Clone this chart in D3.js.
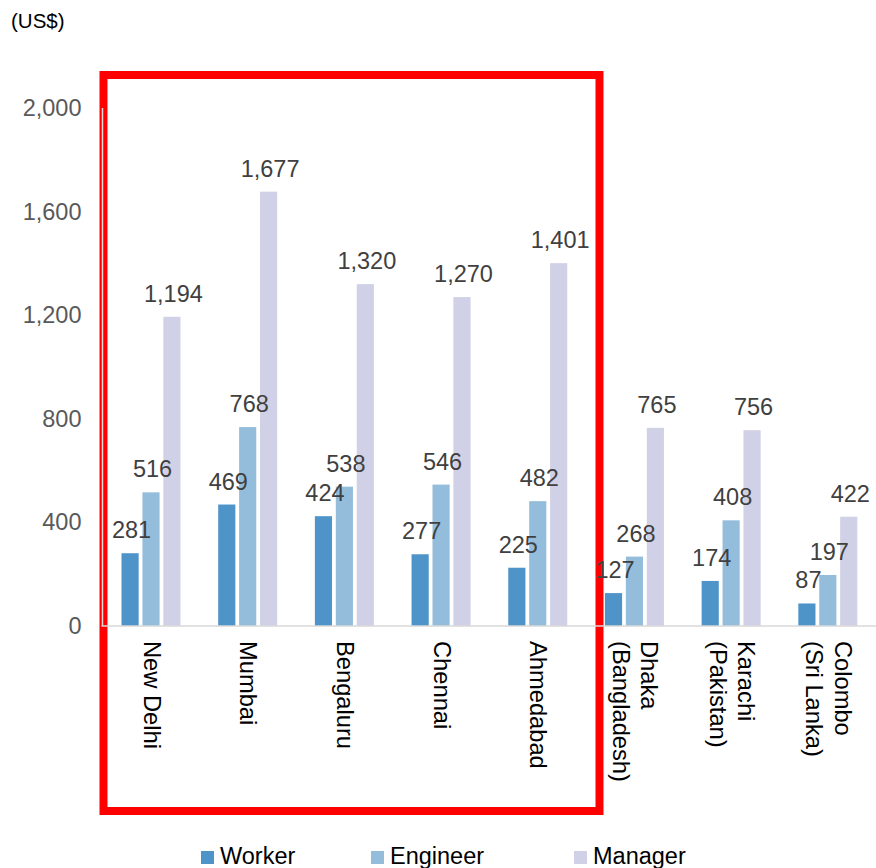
<!DOCTYPE html>
<html>
<head>
<meta charset="utf-8">
<script src="https://cdn.jsdelivr.net/npm/d3@7"></script>
<style>
  html, body { margin: 0; padding: 0; background: #ffffff; }
  svg { display: block; font-family: "Liberation Sans", Arial, sans-serif; }
</style>
</head>
<body>
<svg id="chart" width="876" height="868"></svg>
<script>
// Monthly wages by city (US$)
const cities = [
  ["New Delhi"], ["Mumbai"], ["Bengaluru"], ["Chennai"], ["Ahmedabad"],
  ["Dhaka", "(Bangladesh)"], ["Karachi", "(Pakistan)"], ["Colombo", "(Sri Lanka)"]
];
const seriesNames = ["Worker", "Engineer", "Manager"];
const worker   = [281, 469, 424, 277, 225, 127, 174, 87];
const engineer = [516, 768, 538, 546, 482, 268, 408, 197];
const manager  = [1194, 1677, 1320, 1270, 1401, 765, 756, 422];
const yTicks = [0, 400, 800, 1200, 1600, 2000];
const colors = ["#4f94c8", "#94bddb", "#d0d1e6"];

const values = [worker, engineer, manager];
const keys = cities.map(c => c.join(" "));

const svg = d3.select("#chart");

const x0 = d3.scaleBand().domain(keys).range([102.5, 876]).paddingInner(0);
const x1 = d3.scaleBand().domain(seriesNames).range([19, 78]).paddingInner(0.18);
const y = d3.scaleLinear().domain([0, 2000]).range([626, 108]);

// Highlight frame around the Indian cities
svg.append("rect")
  .attr("x", 103.5).attr("y", 75)
  .attr("width", 496).attr("height", 736)
  .attr("fill", "none")
  .attr("stroke", "#ff0000")
  .attr("stroke-width", 8);

// Unit label
svg.append("text")
  .attr("x", 11).attr("y", 28)
  .attr("font-size", 20.5)
  .attr("fill", "#000")
  .text("(US$)");

// Y axis
const yAxis = d3.axisLeft(y).tickValues(yTicks).tickSize(0).tickPadding(21)
  .tickFormat(d3.format(","));
const gy = svg.append("g").attr("transform", "translate(102.5,0)").call(yAxis);
gy.select(".domain").remove();
gy.selectAll("text")
  .attr("font-size", 23.5)
  .attr("fill", "#595959")
  .attr("font-family", "Liberation Sans, Arial, sans-serif");

// Bars
const groups = svg.append("g").selectAll("g")
  .data(keys)
  .join("g")
  .attr("transform", d => `translate(${x0(d)},0)`);

groups.selectAll("rect")
  .data((d, i) => seriesNames.map((s, k) => ({ s, v: values[k][i], k })))
  .join("rect")
  .attr("x", d => x1(d.s))
  .attr("y", d => y(d.v))
  .attr("width", x1.bandwidth())
  .attr("height", d => y(0) - y(d.v))
  .attr("fill", d => colors[d.k]);

// Value labels
groups.selectAll("text.val")
  .data((d, i) => seriesNames.map((s, k) => ({ s, v: values[k][i], k })))
  .join("text")
  .attr("class", "val")
  .attr("x", d => x1(d.s) + x1.bandwidth() / 2 + 1.5)
  .attr("y", d => y(d.v) - 15)
  .attr("text-anchor", "middle")
  .attr("font-size", 23.5)
  .attr("fill", "#404040")
  .text(d => d3.format(",")(d.v));

// Axis lines
svg.append("line")
  .attr("x1", 102.5).attr("x2", 102.5)
  .attr("y1", 108).attr("y2", 626)
  .attr("stroke", "#d9d9d9").attr("stroke-width", 1.5);
svg.append("line")
  .attr("x1", 101.5).attr("x2", 876)
  .attr("y1", 626).attr("y2", 626)
  .attr("stroke", "#d9d9d9").attr("stroke-width", 1.5);

// Category labels, rotated to read downward
cities.forEach((lines, i) => {
  const cx = x0(keys[i]) + x0.bandwidth() / 2;
  const t = svg.append("text")
    .attr("transform", `translate(${cx},641) rotate(90)`)
    .attr("font-size", 23.7)
    .attr("fill", "#000");
  if (lines.length === 1) {
    t.append("tspan").attr("x", 0).attr("dy", "0.3em").text(lines[0]);
  } else {
    t.append("tspan").attr("x", 0).attr("dy", "-0.3em").text(lines[0]);
    t.append("tspan").attr("x", 0).attr("dy", "1.2em").text(lines[1]);
  }
});

// Legend
const legendX = [201, 371, 574];
const legend = svg.append("g");
seriesNames.forEach((s, k) => {
  legend.append("rect")
    .attr("x", legendX[k]).attr("y", 851)
    .attr("width", 13).attr("height", 13)
    .attr("fill", colors[k]);
  legend.append("text")
    .attr("x", legendX[k] + 19).attr("y", 864)
    .attr("font-size", 23.5)
    .attr("fill", "#000")
    .text(s);
});
</script>
</body>
</html>
